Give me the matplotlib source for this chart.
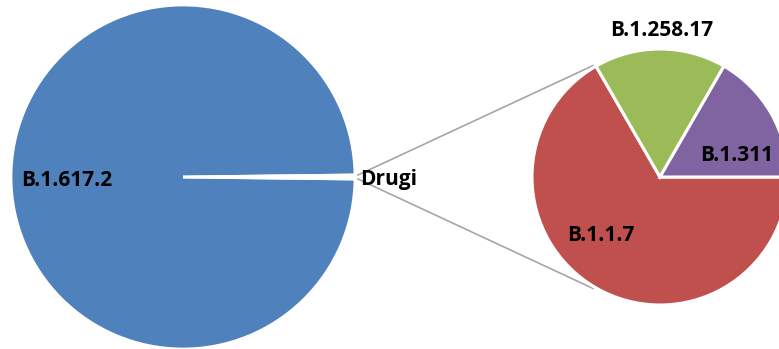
import matplotlib
matplotlib.use("Agg")
import matplotlib.pyplot as plt
import numpy as np

# 主圓餅：B.1.617.2 與其他（Drugi）
main_labels = ["B.1.617.2", "Drugi"]
main_values = [1600, 6]

# 副圓餅：Drugi 的組成
sub_labels = ["B.1.1.7", "B.1.258.17", "B.1.311"]
sub_values = [4, 1, 1]

main_colors = ["#4F81BD", "#FFFFFF"]
sub_colors = ["#C0504D", "#9BBB59", "#8064A2"]

plt.rcParams["font.family"] = ["Open Sans", "DejaVu Sans"]

W, H = 779, 349
fig = plt.figure(figsize=(W / 100, H / 100), dpi=100)
ax = fig.add_axes([0, 0, 1, 1])

main_c, main_r = (183, 172), 172
sub_c, sub_r = (660, 172), 128

total = sum(main_values)
drugi_deg = 360 * main_values[1] / total

ax.pie(main_values, colors=main_colors, center=main_c, radius=main_r,
       startangle=-drugi_deg / 2, counterclock=False,
       wedgeprops=dict(edgecolor="white", linewidth=2.0), frame=True)

ax.pie(sub_values, colors=sub_colors, center=sub_c, radius=sub_r,
       startangle=0, counterclock=False,
       wedgeprops=dict(edgecolor="white", linewidth=2.2), frame=True)
ax.set_xlim(0, W)
ax.set_ylim(0, H)
ax.set_aspect("equal")
ax.set_axis_off()

# 連接線（主圓餅的 Drugi 扇形 → 副圓餅上下緣）
half = np.deg2rad(drugi_deg / 2)
a = np.deg2rad(121)
for s in (1, -1):
    x0 = main_c[0] + main_r * np.cos(half) + 3
    y0 = main_c[1] + s * main_r * np.sin(half)
    x1 = sub_c[0] + (sub_r + 2) * np.cos(a)
    y1 = sub_c[1] + s * (sub_r + 2) * np.sin(a)
    ax.plot([x0, x1], [y0, y1], color="#A6A6A6", lw=1.2, zorder=0.5)

tk = dict(fontsize=15, fontweight="bold", color="black", ha="center", va="baseline")
ax.text(67, H - 186, main_labels[0], **tk)
ax.text(389, H - 185, main_labels[1], **tk)
ax.text(601, H - 241, sub_labels[0], **tk)
ax.text(662, H - 36, sub_labels[1], **tk)
ax.text(737, H - 161, sub_labels[2], **tk)

fig.savefig("out.png", dpi=100)
